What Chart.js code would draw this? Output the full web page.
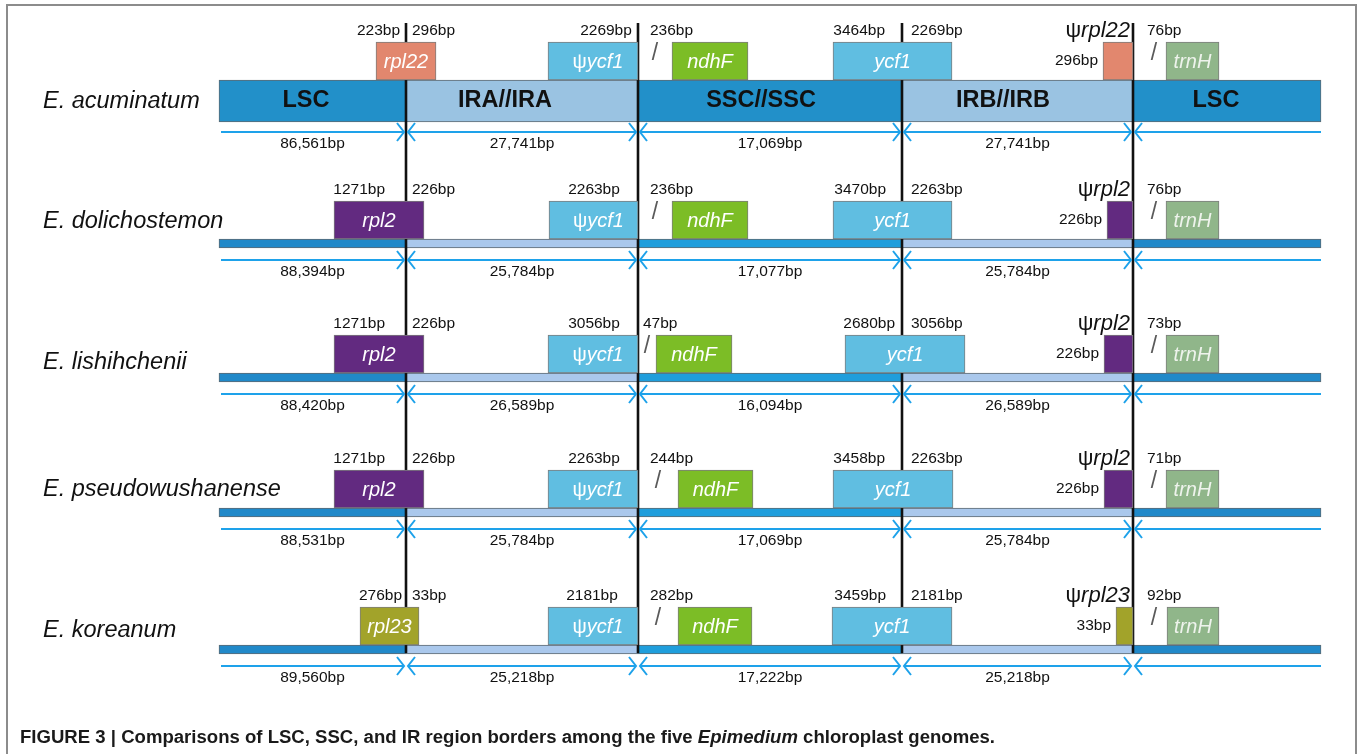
<!DOCTYPE html>
<html>
<head>
<meta charset="utf-8">
<title>IR border comparison – Epimedium</title>
<script src="https://cdn.jsdelivr.net/npm/chart.js@4.4.1/dist/chart.umd.min.js"></script>
<style>
  html, body { margin: 0; padding: 0; background: #ffffff; }
  #wrap { width: 1360px; height: 754px; }
</style>
</head>
<body>
<div id="wrap"><canvas id="map" width="1360" height="754"></canvas></div>
<script>
// ---------------- data ----------------
const species = ['E. acuminatum', 'E. dolichostemon', 'E. lishihchenii', 'E. pseudowushanense', 'E. koreanum'];
const regionNames = ['LSC', 'IRA//IRA', 'SSC//SSC', 'IRB//IRB', 'LSC'];

// region lengths (bp)
const lscLength = [86561, 88394, 88420, 88531, 89560];
const irLength  = [27741, 25784, 26589, 25784, 25218];
const sscLength = [17069, 17077, 16094, 17069, 17222];

// genes at the junctions and their distances to the borders (bp)
const jlbGene      = ['rpl22', 'rpl2', 'rpl2', 'rpl2', 'rpl23'];
const jlbLeftBp    = [223, 1271, 1271, 1271, 276];
const jlbRightBp   = [296, 226, 226, 226, 33];
const psiYcf1Bp    = [2269, 2263, 3056, 2263, 2181];
const ndhfGapBp    = [236, 236, 47, 244, 282];
const ycf1SscBp    = [3464, 3470, 2680, 3458, 3459];
const ycf1IrbBp    = [2269, 2263, 3056, 2263, 2181];
const jlaPsiBp     = [296, 226, 226, 226, 33];
const trnhGapBp    = [76, 76, 73, 71, 92];

// schematic map: track start, JLB, JSB, JSA, JLA, track end (map units)
const mapBorders = [219, 406, 638, 902, 1133, 1321];

// schematic extents of the gene boxes along the map (map units)
const jlbSpan     = [[376, 436], [334, 424], [334, 424], [334, 424], [360, 419]];
const psiYcf1Span = [[548, 638], [549, 638], [548, 638], [548, 638], [548, 638]];
const ndhfSpan    = [[672, 748], [672, 748], [656, 732], [678, 753], [678, 752]];
const ycf1Span    = [[833, 952], [833, 952], [845, 965], [833, 953], [832, 952]];
const jlaSpan     = [[1103, 1133], [1107, 1133], [1104, 1133], [1104, 1133], [1116, 1133]];
const trnhSpan    = [[1166, 1219], [1166, 1219], [1166, 1219], [1166, 1219], [1167, 1219]];

// ---------------- layout & style ----------------
const FONT = '"Liberation Sans", Arial, Helvetica, sans-serif';
const layout = {
  trackTop: [80, 239, 373, 508, 645],
  trackH: [42, 9, 9, 9, 9],
  boxH: 38,
  speciesX: 43,
  speciesY: [101, 221, 362, 489, 630],
  jlbLeftEnd: [400, 385, 385, 385, 402],
  ycf1LabelCx: [606, 594, 594, 594, 592],
  jsaLeftEnd: [885, 886, 895, 885, 886],
  regionLabelX: [306, 505, 761, 1003, 1216],
  lineTop: 23,
  lineBottom: 653
};
const geneColor = {
  rpl22: '#E2876E', rpl2: '#622A80', rpl23: '#A2A32A',
  ycf1: '#60BEE1', ndhF: '#7CBD26', trnH: '#90B68A'
};
const trackColorsThick = ['#2290C9', '#9AC3E2', '#2290C9', '#9AC3E2', '#2290C9'];
const trackColorsThin  = ['#2189C9', '#AAC8EC', '#1F9EDC', '#AAC8EC', '#2189C9'];
const arrowColor = '#1EA2EA';

const rows = species.map((_, r) => r);
const boxTop = r => layout.trackTop[r] - layout.boxH;
const trackBottom = r => layout.trackTop[r] + layout.trackH[r];
const arrowY = r => trackBottom(r) + (r === 0 ? 10 : 12);
const fmtBp = v => v.toLocaleString('en-US') + 'bp';

function rowGenes(r) {
  return [
    { name: jlbGene[r], span: jlbSpan[r], color: geneColor[jlbGene[r]] },
    { name: 'ψycf1', span: psiYcf1Span[r], color: geneColor.ycf1, shift: 5 },
    { name: 'ndhF', span: ndhfSpan[r], color: geneColor.ndhF },
    { name: 'ycf1', span: ycf1Span[r], color: geneColor.ycf1 },
    { name: null, span: jlaSpan[r], color: geneColor[jlbGene[r]] },
    { name: 'trnH', span: trnhSpan[r], color: geneColor.trnH, text: '#EEF3EC' }
  ];
}

// ---------------- datasets ----------------
const thickTrack = [], thickColors = [], thinTrack = [], thinColors = [];
rows.forEach(r => {
  for (let i = 0; i < 5; i++) {
    const pt = { x: [mapBorders[i], mapBorders[i + 1]], y: layout.trackTop[r] + layout.trackH[r] / 2 };
    if (r === 0) { thickTrack.push(pt); thickColors.push(trackColorsThick[i]); }
    else { thinTrack.push(pt); thinColors.push(trackColorsThin[i]); }
  }
});

const geneBoxes = [], geneColors = [];
rows.forEach(r => rowGenes(r).forEach(g => {
  geneBoxes.push({ x: g.span.slice(), y: boxTop(r) + layout.boxH / 2 });
  geneColors.push(g.color);
}));

const GAP = { x: null, y: null };
const borderLines = [];
for (let j = 1; j <= 4; j++) {
  borderLines.push({ x: mapBorders[j], y: layout.lineTop }, { x: mapBorders[j], y: layout.lineBottom }, GAP);
}

const arrows = [];
rows.forEach(r => {
  const y = arrowY(r);
  for (let i = 0; i < 5; i++) {
    const a = mapBorders[i], b = mapBorders[i + 1];
    const s = a + 2;
    const e = i === 4 ? b : b - 2;
    arrows.push({ x: s, y }, { x: e, y }, GAP);
    if (i > 0) arrows.push({ x: a + 9, y: y - 9 }, { x: a + 2, y }, { x: a + 9, y: y + 9 }, GAP);
    if (i < 4) arrows.push({ x: b - 9, y: y - 9 }, { x: b - 2, y }, { x: b - 9, y: y + 9 }, GAP);
  }
});

// ---------------- text layer ----------------
function drawRuns(ctx, parts, x, y, align) {
  let w = 0;
  parts.forEach(p => { ctx.font = p.font; p.w = ctx.measureText(p.text).width; w += p.w; });
  let cx = align === 'right' ? x - w : align === 'center' ? x - w / 2 : x;
  ctx.textAlign = 'left';
  parts.forEach(p => { ctx.font = p.font; ctx.fillText(p.text, cx, y); cx += p.w; });
}
function geneRuns(name, size) {
  if (name.startsWith('ψ')) {
    return [{ text: 'ψ', font: `${size}px ${FONT}` }, { text: name.slice(1), font: `italic ${size}px ${FONT}` }];
  }
  return [{ text: name, font: `italic ${size}px ${FONT}` }];
}

const mapText = {
  id: 'mapText',
  beforeDraw(chart) {
    const ctx = chart.ctx;
    ctx.save();
    ctx.fillStyle = '#ffffff';
    ctx.fillRect(0, 0, chart.width, chart.height);
    ctx.strokeStyle = '#8c8c8c';
    ctx.lineWidth = 2;
    ctx.strokeRect(7, 5, chart.width - 11, chart.height + 20);
    ctx.restore();
  },
  afterDatasetsDraw(chart) {
    const ctx = chart.ctx;
    const X = v => chart.scales.x.getPixelForValue(v);
    const Y = v => chart.scales.y.getPixelForValue(v);
    const small = `15.5px ${FONT}`;
    ctx.save();
    ctx.textBaseline = 'middle';

    // species names
    ctx.fillStyle = '#111';
    ctx.font = `italic 23.5px ${FONT}`;
    ctx.textAlign = 'left';
    species.forEach((s, r) => ctx.fillText(s, X(layout.speciesX), Y(layout.speciesY[r])));

    // region names on the first track
    ctx.font = `bold 23.5px ${FONT}`;
    ctx.textAlign = 'center';
    regionNames.forEach((n, i) => ctx.fillText(n, X(layout.regionLabelX[i]), Y(layout.trackTop[0] + layout.trackH[0] / 2)));

    rows.forEach(r => {
      const top = boxTop(r);
      const yTop = top - 11;
      const [, JLB, JSB, JSA, JLA] = mapBorders;

      // gene names inside boxes
      rowGenes(r).forEach(g => {
        if (!g.name) return;
        ctx.fillStyle = g.text || '#ffffff';
        const cx = (g.span[0] + g.span[1]) / 2 + (g.shift || 0);
        drawRuns(ctx, geneRuns(g.name, 20), X(cx), Y(top + layout.boxH / 2 + 1), 'center');
      });

      ctx.fillStyle = '#111';
      ctx.font = small;
      // JLB
      ctx.textAlign = 'right';
      ctx.fillText(jlbLeftBp[r] + 'bp', X(layout.jlbLeftEnd[r]), Y(yTop));
      ctx.textAlign = 'left';
      ctx.fillText(jlbRightBp[r] + 'bp', X(JLB + 6), Y(yTop));
      // JSB
      ctx.textAlign = 'center';
      ctx.fillText(psiYcf1Bp[r] + 'bp', X(layout.ycf1LabelCx[r]), Y(yTop));
      const slashJsb = (JSB + ndhfSpan[r][0]) / 2;
      ctx.textAlign = 'left';
      ctx.fillText(ndhfGapBp[r] + 'bp', X(Math.min(JSB + 12, slashJsb - 4)), Y(yTop));
      // JSA
      ctx.textAlign = 'right';
      ctx.fillText(ycf1SscBp[r] + 'bp', X(layout.jsaLeftEnd[r]), Y(yTop));
      ctx.textAlign = 'left';
      ctx.fillText(ycf1IrbBp[r] + 'bp', X(JSA + 9), Y(yTop));
      // JLA
      ctx.textAlign = 'right';
      ctx.fillText(jlaPsiBp[r] + 'bp', X(jlaSpan[r][0] - 5), Y(top + 19));
      ctx.textAlign = 'left';
      ctx.fillText(trnhGapBp[r] + 'bp', X(JLA + 14), Y(yTop));
      drawRuns(ctx, geneRuns('ψ' + jlbGene[r], 22), X(JLA - 3), Y(yTop), 'right');

      // gap markers
      ctx.font = `23px ${FONT}`;
      ctx.fillStyle = '#5a5a5a';
      ctx.textAlign = 'center';
      ctx.fillText('/', X(slashJsb), Y(top + 12));
      ctx.fillText('/', X(JLA + 21), Y(top + 12));

      // region lengths under the arrows
      ctx.fillStyle = '#111';
      ctx.font = small;
      ctx.textAlign = 'center';
      const lens = [lscLength[r], irLength[r], sscLength[r], irLength[r]];
      lens.forEach((v, i) => ctx.fillText(fmtBp(v), X((mapBorders[i] + mapBorders[i + 1]) / 2), Y(arrowY(r) + 12)));
    });

    // caption
    const parts = [
      { text: 'FIGURE 3 | Comparisons of LSC, SSC, and IR region borders among the five ', font: `bold 18px ${FONT}` },
      { text: 'Epimedium', font: `italic bold 18px ${FONT}` },
      { text: ' chloroplast genomes.', font: `bold 18px ${FONT}` }
    ];
    let w = 0;
    parts.forEach(p => { ctx.font = p.font; w += ctx.measureText(p.text).width; });
    const sx = 975 / w;
    ctx.translate(20, 738);
    ctx.scale(sx, 1);
    ctx.fillStyle = '#1a1a1a';
    drawRuns(ctx, parts, 0, 0, 'left');
    ctx.restore();
  }
};

// ---------------- chart ----------------
new Chart(document.getElementById('map'), {
  type: 'scatter',
  data: {
    datasets: [
      {
        type: 'bar', label: 'tracks (first genome)', data: thickTrack, indexAxis: 'y', grouped: false,
        barThickness: layout.trackH[0], backgroundColor: thickColors, borderColor: '#5e6a72',
        borderWidth: 1, borderSkipped: false, order: 4
      },
      {
        type: 'bar', label: 'tracks', data: thinTrack, indexAxis: 'y', grouped: false,
        barThickness: layout.trackH[1], backgroundColor: thinColors, borderColor: '#5e6a72',
        borderWidth: 1, borderSkipped: false, order: 4
      },
      {
        type: 'line', label: 'junctions', data: borderLines, borderColor: '#111111', borderWidth: 2.6,
        pointRadius: 0, fill: false, tension: 0, spanGaps: false, order: 3
      },
      {
        type: 'bar', label: 'genes', data: geneBoxes, indexAxis: 'y', grouped: false,
        barThickness: layout.boxH, backgroundColor: geneColors, borderColor: '#7d7d7d',
        borderWidth: 1, borderSkipped: false, order: 2
      },
      {
        type: 'line', label: 'region spans', data: arrows, borderColor: arrowColor, borderWidth: 2,
        pointRadius: 0, fill: false, tension: 0, spanGaps: false, borderJoinStyle: 'miter', order: 1
      }
    ]
  },
  options: {
    responsive: false,
    devicePixelRatio: 1,
    animation: false,
    events: [],
    layout: { padding: 0 },
    plugins: { legend: { display: false }, tooltip: { enabled: false }, title: { display: false } },
    scales: {
      x: { type: 'linear', min: 0, max: 1360, display: false, offset: false },
      y: { type: 'linear', min: 0, max: 754, reverse: true, display: false, offset: false }
    }
  },
  plugins: [mapText]
});
</script>
</body>
</html>
